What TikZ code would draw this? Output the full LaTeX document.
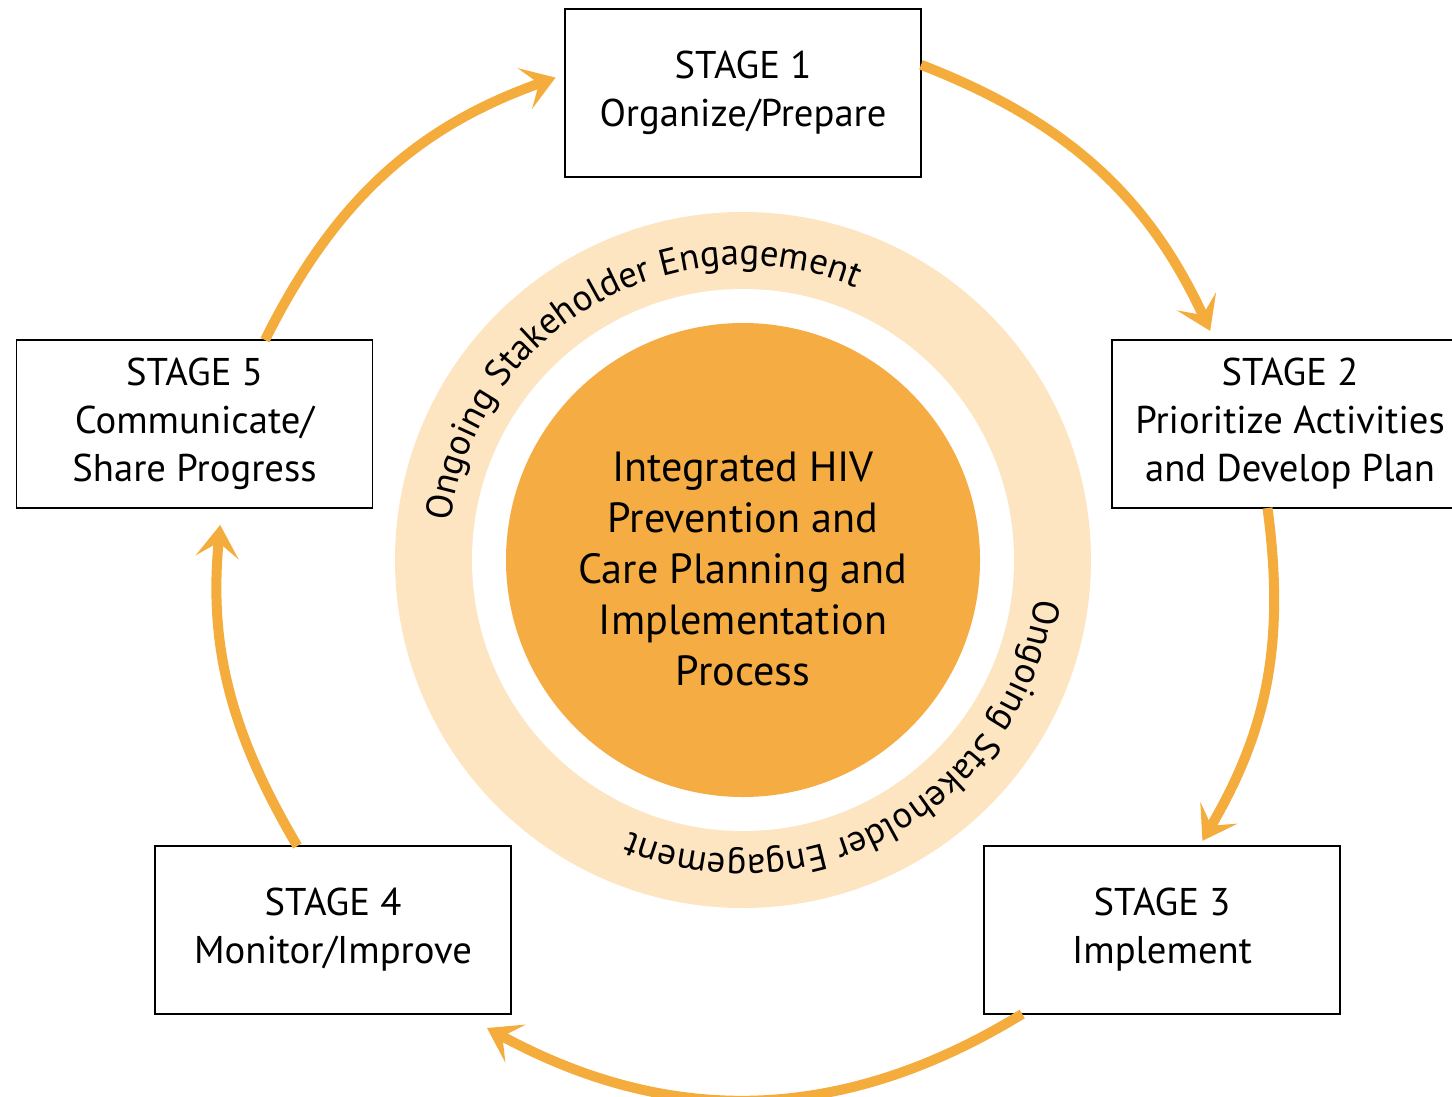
\documentclass[tikz,border=0pt]{standalone}
\usepackage{fontspec}
\setmainfont{PT Sans}
\usetikzlibrary{arrows.meta,decorations.text,calc}
\definecolor{flow}{HTML}{F4AC3C}
\definecolor{core}{HTML}{F5AD43}
\definecolor{band}{HTML}{FDE5C2}
\begin{document}
\begin{tikzpicture}[x=0.2mm,y=0.2mm,inner sep=0pt,outer sep=0pt,
stagebox/.style={draw,fill=white,rectangle,line width=1pt,minimum width=71.2mm,minimum height=33.6mm,align=center,font=\fontsize{22}{27.3}\selectfont},
flowarrow/.style={draw=flow,line width=2mm,-{Stealth[length=6.5mm,width=8.6mm,inset=3mm]}},
bandtext/.style={decorate,decoration={text along path,text align=center,text={|\fontsize{21}{23}\selectfont|#1}}}]
\useasboundingbox (0,0) rectangle (1452,-1097);
\coordinate (c) at (743,-560);
\fill[band] (c) circle (348);
\fill[white] (c) circle (271);
\fill[core] (c) circle (237);
\draw (743,-569) node[align=center,font=\fontsize{24}{29}\selectfont] (plan) {Integrated HIV\\Prevention and\\Care Planning and\\Implementation\\Process};
\path[bandtext=Ongoing Stakeholder Engagement] ($(c)+(175:295)$) arc[start angle=175,end angle=65,radius=295];
\path[bandtext=Ongoing Stakeholder Engagement] ($(c)+(-5:295)$) arc[start angle=-5,end angle=-115,radius=295];
\draw (743,-93) node[stagebox] (s1) {STAGE 1\\Organize/Prepare};
\draw (1290,-424) node[stagebox] (s2) {STAGE 2\\Prioritize Activities\\and Develop Plan};
\draw (1162,-930) node[stagebox] (s3) {STAGE 3\\Implement};
\draw (333,-930) node[stagebox] (s4) {STAGE 4\\Monitor/Improve};
\draw (194.5,-424) node[stagebox] (s5) {STAGE 5\\Communicate/\\Share Progress};
\draw[flowarrow,shorten >=2mm] (s1.9) to[bend left=22] (s2.132);
\draw[flowarrow,shorten >=1.2mm] (s2.255) to[bend left=19] (s3.66);
\draw[flowarrow] (s3.211) to[bend left=30] ([shift={(-24,-14)}]s4.south east);
\draw[flowarrow,shorten >=3.4mm] (s4.113) to[bend left=18] (s5.288);
\draw[flowarrow,shorten >=2mm] (s5.50) to[bend left=22] (s1.174);
\end{tikzpicture}
\end{document}
